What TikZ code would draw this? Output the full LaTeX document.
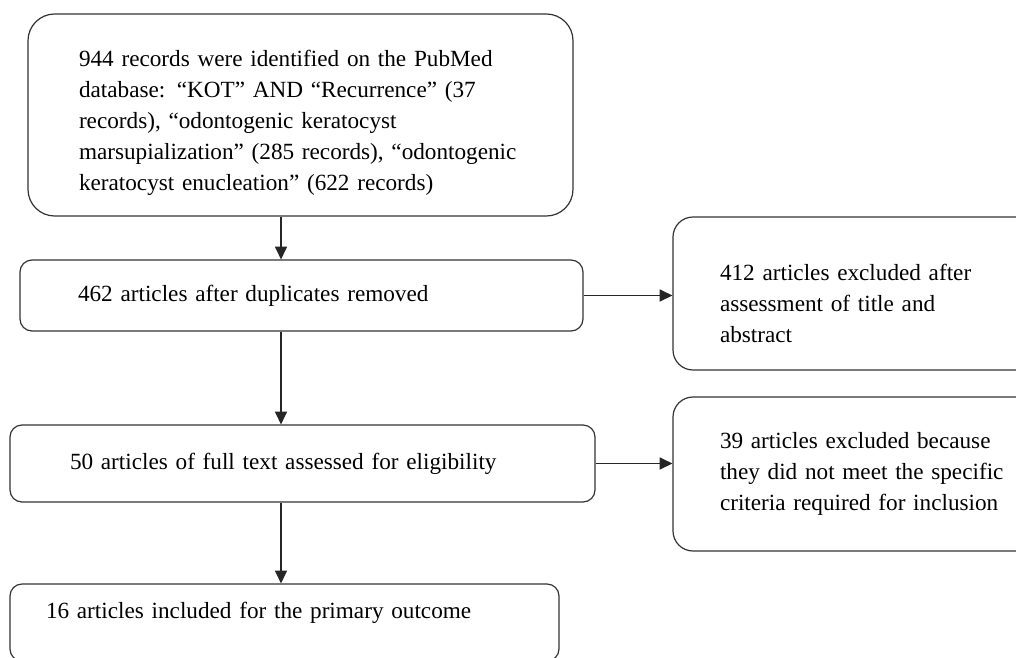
\documentclass[tikz,border=0pt]{standalone}
\usepackage{fontspec}
\setmainfont{Liberation Serif}
\usetikzlibrary{arrows.meta}

\begin{document}
\begin{tikzpicture}[x=0.75pt,y=-0.75pt,>={Triangle[length=9.5pt,width=9pt]},
    box/.style={draw=black!80,line width=0.9pt,rounded corners=9pt,align=left,
                font=\fontsize{17.4}{23.25}\selectfont},
    bigbox/.style={box,rounded corners=20pt},
    sidebox/.style={box,rounded corners=15pt,text width=213.75pt,inner xsep=35.25pt},
    link/.style={->,draw=black!85,line width=0.9pt}]

    \useasboundingbox (0,0) rectangle (1016,657);

    % main column
    \node[bigbox,text width=332.25pt,inner xsep=38.25pt,minimum height=151.5pt] (records) at (300.5,115)
        {\rule{0pt}{24pt}944 records were identified on the PubMed\\
         database: “KOT” AND “Recurrence” (37\\
         records), “odontogenic keratocyst\\
         marsupialization” (285 records), “odontogenic\\
         keratocyst enucleation” (622 records)};
    \node[box,text width=335.25pt,inner xsep=43.5pt,minimum height=53.25pt] (dup) at (301.5,295.5)
        {462 articles after duplicates removed};
    \node[box,text width=348.75pt,inner xsep=45pt,minimum height=57.75pt] (full) at (302.5,463.5)
        {50 articles of full text assessed for eligibility};
    \node[box,text width=357.75pt,inner xsep=27pt,minimum height=57.75pt,
          text height=12pt,text depth=18pt] (incl) at (284.5,622.5)
        {16 articles included for the primary outcome};

    % exclusions
    \node[sidebox,minimum height=114.75pt] (excl1) at (862.5,293.5)
        {\rule{0pt}{27pt}412 articles excluded after\\
         assessment of title and\\
         abstract};
    \node[sidebox,minimum height=115.5pt] (excl2) at (862.5,474)
        {39 articles excluded because\\
         they did not meet the specific\\
         criteria required for inclusion};

    \coordinate (col) at (281,0);
    \draw[link] (records.south -| col) -- (dup.north -| col);
    \draw[link] (dup.south -| col) -- (full.north -| col);
    \draw[link] (full.south -| col) -- (incl.north -| col);
    \draw[link] (dup.east) -- (dup.east -| excl1.west);
    \draw[link] (full.east) -- (full.east -| excl2.west);

\end{tikzpicture}
\end{document}
